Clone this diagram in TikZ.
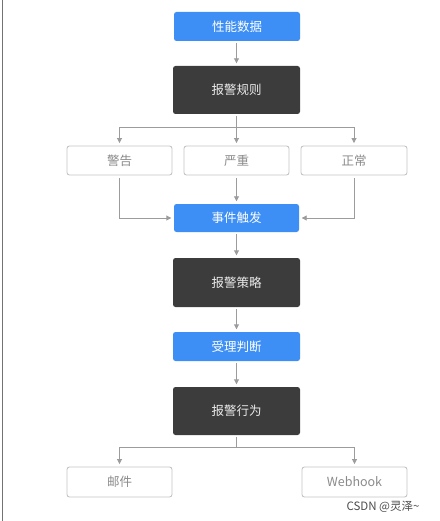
\documentclass[tikz,border=0pt]{standalone}
\usepackage{fontspec}
\setmainfont{Noto Sans CJK SC}
\usetikzlibrary{arrows.meta}
\definecolor{bblue}{HTML}{3D8EF5}
\definecolor{dgray}{HTML}{3C3C3C}
\definecolor{lgray}{HTML}{C4C4C4}
\definecolor{tgray}{HTML}{8A8A8A}
\definecolor{agray}{HTML}{9C9C9C}
\tikzset{
  basebox/.style={rounded corners=2.5pt, font=\fontsize{12.5}{14}\selectfont, inner sep=0pt},
  bluebox/.style={basebox, fill=bblue, text=white, minimum width=126pt, minimum height=29pt},
  darkbox/.style={basebox, fill=dgray, text=white!92!black, minimum width=127pt, minimum height=48pt},
  greybox/.style={basebox, draw=lgray, line width=0.9pt, text=tgray, minimum width=105pt, minimum height=29pt},
  conn/.style={draw=agray, line width=0.9pt},
  arr/.style={conn, -{Triangle[length=5pt,width=5pt]}, shorten >=2.5pt},
}
\begin{document}
\begin{tikzpicture}[x=1pt,y=-1pt]
\useasboundingbox (0,0) rectangle (439,521);
\draw[color=black!55, line width=1.6pt] (2.5,0) -- (2.5,521);

\node[bluebox] (n1) at (237,26.5) {性能数据};
\node[darkbox] (n2) at (236.5,90) {报警规则};
\node[greybox] (w1) at (119.5,160.5) {警告};
\node[greybox] (w2) at (236.5,160.5) {严重};
\node[greybox, minimum width=106pt] (w3) at (354,160.5) {正常};
\node[bluebox, minimum width=125pt, minimum height=28pt] (n3) at (236.5,218) {事件触发};
\node[darkbox, minimum height=49pt] (n4) at (236.5,282.5) {报警策略};
\node[bluebox, minimum width=127pt] (n5) at (236.5,346.5) {受理判断};
\node[darkbox] (n6) at (236.5,411) {报警行为};
\node[greybox, minimum height=30pt] (m1) at (119.5,482) {邮件};
\node[greybox, minimum height=30pt] (m2) at (354.5,482) {Webhook};
\node[font=\fontsize{11.5}{13}\selectfont, text=black!70, inner sep=0pt] (wm) at (383,507) {CSDN @灵泽\textasciitilde};

\coordinate (b1) at (236.5,127);
\coordinate (b2) at (236.5,447);

\draw[arr, shorten <=2pt] (n1.south -| n2.north) -- (n2.north);
\draw[conn, shorten <=1.5pt] (n2.south) -- (b1);
\draw[arr] (b1) -| (w1.north);
\draw[arr] (b1) -- (w2.north);
\draw[arr] (b1) -| (w3.north);
\draw[arr, shorten <=3pt] (w1.south) |- (n3.west);
\draw[arr, shorten <=3pt] (w2.south) -- (n3.north);
\draw[arr, shorten <=3pt] (w3.south) |- (n3.east);
\draw[arr, shorten <=2pt] (n3.south) -- (n4.north);
\draw[arr, shorten <=2pt] (n4.south) -- (n5.north);
\draw[arr, shorten <=2pt] (n5.south) -- (n6.north);
\draw[conn, shorten <=1.5pt] (n6.south) -- (b2);
\draw[arr] (b2) -| (m1.north);
\draw[arr] (b2) -| (m2.north);
\end{tikzpicture}
\end{document}
